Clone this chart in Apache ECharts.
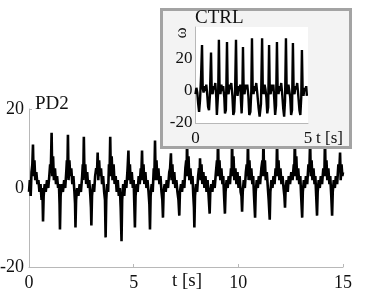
<!DOCTYPE html>
<html>
<head>
<meta charset="utf-8">
<script src="https://cdn.jsdelivr.net/npm/echarts@6/dist/echarts.min.js"></script>
<style>html,body{margin:0;padding:0;background:#fff}#c{width:367px;height:303px}</style>
</head>
<body>
<div id="c"></div>
<script>
// Main panel (PD2): [time s, omega]
var pd2 = [
[0.00,-1],[0.04,2],[0.08,-2],[0.12,4],[0.16,6],[0.19,11],[0.22,3],[0.26,7],[0.30,2],[0.35,4],[0.40,1],[0.45,2],[0.50,-1],[0.55,1],[0.60,-3],[0.64,0],[0.67,-8.5],[0.70,-2],[0.75,1],[0.80,-1],[0.86,2],[0.92,0],[0.97,3],
[1.01,6],[1.04,4],[1.08,14],[1.11,3],[1.15,8],[1.19,2],[1.24,5],[1.29,1],[1.34,3],[1.39,0],[1.43,1],[1.46,-4],[1.48,-10.5],[1.51,-2],[1.56,1],[1.62,-1],[1.68,2],[1.73,0],[1.78,4],
[1.81,7],[1.83,3],[1.86,13.5],[1.89,2],[1.93,7],[1.97,3],[2.02,5],[2.07,1],[2.12,3],[2.17,-1],[2.20,-4],[2.22,-10],[2.25,-3],[2.30,0],[2.36,-2],[2.42,1],[2.48,-1],[2.54,3],
[2.57,6],[2.59,2],[2.62,13],[2.65,3],[2.69,6],[2.73,1],[2.78,4],[2.83,0],[2.88,2],[2.93,-2],[2.96,-5],[2.98,-9.5],[3.01,-2],[3.06,1],[3.11,-1],[3.16,3],[3.21,5],
[3.25,4],[3.28,9],[3.31,2],[3.35,7],[3.39,3],[3.44,5],[3.49,1],[3.54,3],[3.59,-1],[3.63,-3],[3.66,-12.5],[3.69,-3],[3.73,1],[3.78,-1],[3.82,6],[3.85,4],
[3.88,13],[3.91,3],[3.95,8],[3.99,2],[4.04,6],[4.09,1],[4.14,3],[4.19,-1],[4.24,2],[4.29,-2],[4.34,0],[4.38,-5],[4.42,-13.5],[4.45,-3],[4.50,1],[4.55,-2],[4.60,2],[4.65,0],[4.70,4],
[4.72,6],[4.75,9.5],[4.78,2],[4.82,6],[4.86,1],[4.91,4],[4.96,0],[5.00,2],[5.03,-4],[5.06,-10],[5.09,-2],[5.14,1],[5.19,-1],[5.24,3],[5.29,1],[5.34,5],
[5.37,4],[5.40,9.5],[5.43,2],[5.47,6],[5.51,1],[5.56,4],[5.61,0],[5.66,2],[5.71,-1],[5.75,-4],[5.78,-10.5],[5.81,-2],[5.86,1],[5.91,-1],[5.96,5],[5.99,3],
[6.02,12],[6.05,2],[6.09,7],[6.13,2],[6.18,5],[6.23,1],[6.28,3],[6.33,-1],[6.37,-3],[6.40,-7.5],[6.43,-1],[6.48,1],[6.53,-1],[6.58,2],[6.64,0],[6.70,4],
[6.74,5],[6.78,8.8],[6.81,2],[6.85,6],[6.89,1],[6.94,4],[6.99,0],[7.04,2],[7.09,-1],[7.14,-3],[7.18,-7],[7.21,-1],[7.26,1],[7.31,-1],[7.36,2],[7.42,0],[7.47,5],
[7.51,7],[7.53,3],[7.55,13],[7.58,3],[7.62,8],[7.66,2],[7.71,5],[7.76,1],[7.81,3],[7.85,-2],[7.88,-5],[7.90,-10],[7.93,-2],[7.98,1],[8.03,-1],[8.08,3],[8.12,5],
[8.15,3],[8.17,7.5],[8.20,2],[8.24,6],[8.28,1],[8.33,4],[8.38,0],[8.43,3],[8.48,-1],[8.53,2],[8.58,-2],[8.63,-6.5],[8.66,-1],[8.71,1],[8.76,-1],[8.81,2],[8.87,0],[8.93,4],
[8.98,7],[9.00,3],[9.03,13],[9.06,3],[9.10,7],[9.14,2],[9.19,5],[9.24,1],[9.28,3],[9.32,-2],[9.36,-6.5],[9.39,-1],[9.44,2],[9.49,0],[9.54,3],[9.60,1],[9.65,5],
[9.68,3],[9.70,13],[9.73,3],[9.77,8],[9.81,2],[9.86,5],[9.91,1],[9.96,4],[10.01,0],[10.06,3],[10.11,-1],[10.15,-2],[10.18,-6],[10.21,-1],[10.26,2],[10.31,0],[10.36,4],[10.40,6],
[10.43,3],[10.46,12],[10.49,2],[10.53,7],[10.57,2],[10.62,5],[10.67,1],[10.71,3],[10.75,-2],[10.80,-7.5],[10.83,-1],[10.88,2],[10.93,0],[10.98,3],[11.04,1],[11.10,5],[11.15,7],
[11.17,3],[11.20,13],[11.23,3],[11.27,7],[11.31,2],[11.36,4],[11.41,0],[11.45,-3],[11.50,-8],[11.53,-1],[11.58,2],[11.63,0],[11.68,3],[11.73,1],[11.78,5],[11.82,3],
[11.85,12],[11.88,3],[11.92,7],[11.96,2],[12.01,5],[12.06,1],[12.11,3],[12.16,0],[12.20,-2],[12.23,-5],[12.26,0],[12.31,2],[12.36,-1],[12.41,3],[12.47,1],[12.53,4],[12.59,2],[12.65,6],
[12.67,3],[12.70,13],[12.73,3],[12.77,8],[12.81,2],[12.86,5],[12.91,1],[12.96,3],[13.00,-2],[13.05,-7.5],[13.08,-1],[13.13,2],[13.18,0],[13.23,3],[13.29,1],[13.35,6],[13.39,4],
[13.43,12],[13.46,3],[13.50,7],[13.54,2],[13.59,5],[13.64,1],[13.68,3],[13.72,-2],[13.76,-7],[13.79,-1],[13.84,2],[13.89,0],[13.94,3],[14.00,1],[14.06,5],[14.11,3],
[14.14,13],[14.17,3],[14.21,7],[14.25,2],[14.30,5],[14.35,1],[14.39,3],[14.44,-2],[14.48,-7],[14.51,-1],[14.56,2],[14.61,0],[14.66,3],[14.72,1],[14.78,6],[14.82,4],
[14.86,9],[14.89,2],[14.93,6],[14.97,3],[15.00,4]
];
// Inset panel (CTRL): [time s, omega]
var ctrl = [
[0.00,-2],[0.04,2],[0.08,-1],[0.12,-8],[0.16,-13],[0.20,-6],[0.25,10],[0.29,28.7],[0.32,2],[0.36,-1],[0.40,3],[0.44,0],[0.48,4],[0.52,-2],[0.56,-10],[0.60,-12],[0.64,-3],[0.69,24],
[0.72,1],[0.76,-2],[0.80,3],[0.84,1],[0.88,5],[0.92,-3],[0.95,-15],[0.98,-14],[1.01,0],[1.04,32],[1.07,2],[1.11,-2],[1.15,4],[1.19,0],[1.23,3],[1.28,-4],[1.31,-14],[1.35,-12],[1.37,2],[1.40,30.6],
[1.43,1],[1.47,-2],[1.51,4],[1.55,1],[1.59,5],[1.64,-3],[1.68,-15],[1.72,-13],[1.76,0],[1.80,32],[1.83,2],[1.87,-3],[1.91,3],[1.95,0],[1.99,4],[2.02,-6],[2.05,-14],[2.08,-4],[2.11,27.5],
[2.14,1],[2.18,-2],[2.22,4],[2.26,1],[2.30,4],[2.35,-3],[2.39,-15],[2.44,-13],[2.48,0],[2.51,33],[2.54,2],[2.58,-2],[2.62,3],[2.66,0],[2.70,5],[2.75,-2],[2.80,-10],[2.85,-16],[2.91,-8],[2.96,33],
[2.99,2],[3.03,-2],[3.07,4],[3.11,1],[3.15,-4],[3.19,-14],[3.23,-10],[3.27,28.7],[3.30,1],[3.34,-2],[3.38,4],[3.42,0],[3.46,4],[3.50,-5],[3.54,-15],[3.58,-9],[3.62,30.6],
[3.65,2],[3.69,-2],[3.73,3],[3.77,0],[3.81,5],[3.86,-3],[3.90,-11],[3.94,-16],[3.98,-6],[4.02,33],[4.05,2],[4.09,-2],[4.13,4],[4.17,0],[4.21,-4],[4.25,-15],[4.29,-12],[4.33,30],
[4.36,1],[4.40,-2],[4.44,3],[4.48,1],[4.52,5],[4.57,-3],[4.62,-12],[4.66,-15],[4.70,-4],[4.73,25.6],[4.76,1],[4.80,-3],[4.84,2],[4.88,0],[4.92,3],[4.95,-3]
];
var mainXTicks = {min: 0, max: 15, interval: 5};
var mainYTicks = {min: -20, max: 20, interval: 20};
var insetXTicks = {min: 0, max: 5, interval: 5};
var insetYTicks = {min: -20, max: 40, interval: 20};

var FONT = 'Liberation Serif';
var axisGray = '#b8b8b8';
var chart = echarts.init(document.getElementById('c'), null, {renderer: 'canvas'});
chart.setOption({
  animation: false,
  backgroundColor: '#fff',
  grid: [
    {left: 29, right: 24, top: 109, bottom: 36, containLabel: false, outerBoundsMode: 'none'},
    {left: 195.5, top: 27, width: 112.5, height: 96, show: true, backgroundColor: '#fff', borderWidth: 0, zlevel: 1, z: 2, outerBoundsMode: 'none'}
  ],
  xAxis: [
    {type: 'value', gridIndex: 0, min: mainXTicks.min, max: mainXTicks.max, interval: mainXTicks.interval,
     axisLine: {show: true, onZero: false, lineStyle: {color: axisGray, width: 1}},
     axisTick: {show: true, inside: true, length: 3, lineStyle: {color: axisGray}},
     axisLabel: {fontFamily: FONT, fontSize: 18, color: '#111', margin: 7},
     splitLine: {show: false}},
    {type: 'value', gridIndex: 1, min: insetXTicks.min, max: insetXTicks.max, interval: insetXTicks.interval,
     zlevel: 1, z: 3,
     axisLine: {show: true, onZero: false, lineStyle: {color: axisGray, width: 1}},
     axisTick: {show: false},
     axisLabel: {fontFamily: FONT, fontSize: 17, color: '#111', margin: 7},
     splitLine: {show: false}}
  ],
  yAxis: [
    {type: 'value', gridIndex: 0, min: mainYTicks.min, max: mainYTicks.max, interval: mainYTicks.interval,
     axisLine: {show: true, onZero: false, lineStyle: {color: axisGray, width: 1}},
     axisTick: {show: true, inside: true, length: 3, lineStyle: {color: axisGray}},
     axisLabel: {fontFamily: FONT, fontSize: 18, color: '#111', margin: 5},
     splitLine: {show: false}},
    {type: 'value', gridIndex: 1, min: insetYTicks.min, max: insetYTicks.max, interval: insetYTicks.interval,
     zlevel: 1, z: 3,
     axisLine: {show: true, onZero: false, lineStyle: {color: axisGray, width: 1}},
     axisTick: {show: false},
     axisLabel: {fontFamily: FONT, fontSize: 17, color: '#111', margin: 3, showMaxLabel: false},
     splitLine: {show: false}}
  ],
  graphic: [
    {type: 'text', left: 35, top: 95, style: {text: 'PD2', font: '19px "Liberation Serif"', fill: '#111'}},
    {type: 'text', x: 187, y: 272, style: {text: 't [s]', font: '19px "Liberation Serif"', fill: '#111', align: 'center', verticalAlign: 'top'}},
    {type: 'rect', zlevel: 1, z: 1, shape: {x: 161.5, y: 9.5, width: 189, height: 138},
     style: {fill: '#f3f3f3', stroke: '#a3a3a3', lineWidth: 3}},
    {type: 'text', zlevel: 1, z: 10, left: 195, top: 9, style: {text: 'CTRL', font: '19px "Liberation Serif"', fill: '#111'}},
    {type: 'text', zlevel: 1, z: 10, x: 182, y: 33, rotation: Math.PI / 2,
     style: {text: 'ω', font: '17px "Liberation Serif"', fill: '#111', align: 'center', verticalAlign: 'middle'}},
    {type: 'text', zlevel: 1, z: 10, left: 316, top: 130, style: {text: 't [s]', font: '17px "Liberation Serif"', fill: '#111'}}
  ],
  series: [
    {type: 'line', xAxisIndex: 0, yAxisIndex: 0, data: pd2, showSymbol: false, symbol: 'none',
     lineStyle: {color: '#000', width: 2.6}, z: 2},
    {type: 'line', xAxisIndex: 1, yAxisIndex: 1, data: ctrl, showSymbol: false, symbol: 'none',
     lineStyle: {color: '#000', width: 2.4}, zlevel: 1, z: 5}
  ]
});
</script>
</body>
</html>
